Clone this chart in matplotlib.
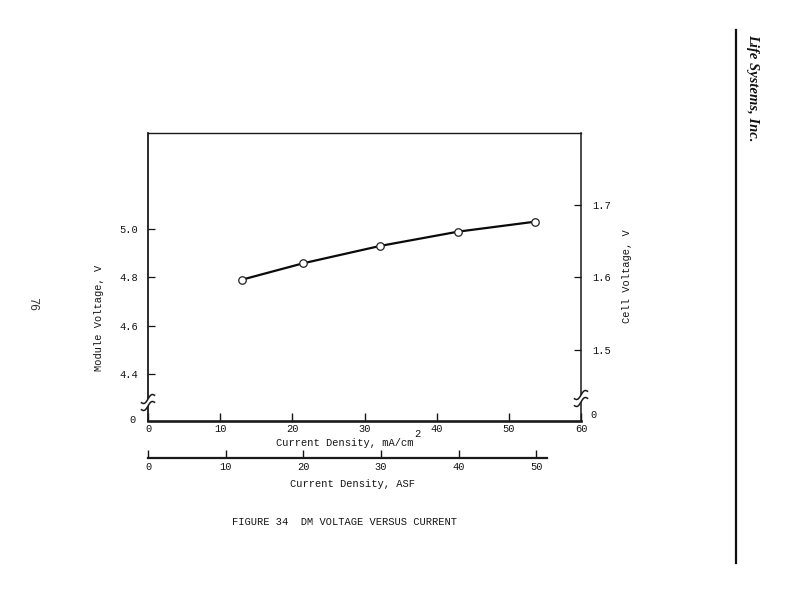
import numpy as np
import matplotlib
matplotlib.use("Agg")
import matplotlib.pyplot as plt
from matplotlib.patches import Rectangle

# ---- data ----
current_density = [13.0, 21.5, 32.2, 43.0, 53.6]        # mA/cm^2
module_voltage = [4.79, 4.858, 4.930, 4.989, 5.030]     # V
x_ticks = [0, 10, 20, 30, 40, 50, 60]
x_tick_labels = ["0", "10", "20", "30", "40", "50", "60"]
left_ticks = [4.4, 4.6, 4.8, 5.0]
left_tick_labels = ["4.4", "4.6", "4.8", "5.0"]
right_ticks = [1.5, 1.6, 1.7]
right_tick_labels = ["1.5", "1.6", "1.7"]
asf_ticks = [0, 10, 20, 30, 40, 50]
asf_tick_labels = ["0", "10", "20", "30", "40", "50"]
cells_per_module = 3
mAcm2_per_ASF = 1.0764

INK = "#141414"
plt.rcParams["font.family"] = ["Liberation Mono", "DejaVu Sans Mono"]
plt.rcParams["font.size"] = 7.5

W, H = 791, 607
fig = plt.figure(figsize=(W / 100, H / 100), dpi=100)
fig.patch.set_facecolor("white")

def fx(px):
    return px / W

def fy(py):
    return 1 - py / H

L, R, T, B = 148, 581, 133, 421
ax = fig.add_axes([fx(L), fy(B), (R - L) / W, (B - T) / H])
ax.plot(current_density, module_voltage, "-", color="#0a0a0a", lw=1.6,
        marker="o", ms=5.4, mfc="white", mec="#222222", mew=0.9, zorder=3)
ax.set_xlim(0, 60)
ylo, yhi = 4.2055, 5.397
ax.set_ylim(ylo, yhi)
ax.set_xticks(x_ticks)
ax.set_xticklabels(x_tick_labels)
ax.set_yticks(left_ticks)
ax.set_yticklabels(left_tick_labels)
ax.tick_params(axis="x", direction="in", length=6, width=1.0, pad=2.5, colors=INK)
ax.tick_params(axis="y", direction="in", length=5, width=0.9, pad=7, colors=INK)
ax.spines["bottom"].set_linewidth(1.9)
ax.spines["left"].set_linewidth(1.3)
ax.spines["right"].set_linewidth(1.1)
ax.spines["top"].set_linewidth(1.0)
for s in ax.spines.values():
    s.set_color("#1a1a1a")

ax2 = ax.twinx()
ax2.set_ylim(ylo / cells_per_module, yhi / cells_per_module)
ax2.set_yticks(right_ticks)
ax2.set_yticklabels(right_tick_labels)
ax2.tick_params(axis="y", direction="in", length=5, width=0.9, pad=8, colors=INK)
for s in ax2.spines.values():
    s.set_visible(False)

# corner zero labels
ax.annotate("0", xy=(0, 0), xycoords="axes fraction", xytext=(-11, 0.5),
            textcoords="offset points", ha="center", va="center", color=INK)
ax.annotate("0", xy=(1, 0), xycoords="axes fraction", xytext=(9, 4.5),
            textcoords="offset points", ha="center", va="center", color=INK)

# axis break marks
def brk(xfrac, y1, y2):
    h = B - T
    f1, f2 = (B - y1) / h, (B - y2) / h
    ax.add_patch(Rectangle((xfrac - 0.01, f2), 0.02, f1 - f2, transform=ax.transAxes,
                           facecolor="white", edgecolor="none", clip_on=False, zorder=5))
    t = np.linspace(-1, 1, 30)
    for f in (f1, f2):
        xs = xfrac + t * 0.015
        ys = f + 0.013 * t + 0.008 * np.sin(np.pi * t)
        ax.plot(xs, ys, color="#1a1a1a", lw=1.1, transform=ax.transAxes,
                clip_on=False, zorder=6)

brk(0.0, 406, 399)
brk(1.0, 402, 395)

# x label with superscript
fig.text(fx(413), fy(443), "Current Density, mA/cm", ha="right", va="center", color=INK)
fig.text(fx(414), fy(434), "2", ha="left", va="center", color=INK)

# ASF axis
axa = fig.add_axes([fx(L), fy(458), (R - L) / W, 0.001])
axa.set_xlim(0, 60 / mAcm2_per_ASF)
axa.set_ylim(0, 1)
axa.patch.set_visible(False)
for k in ("top", "left", "right"):
    axa.spines[k].set_visible(False)
axa.spines["bottom"].set_bounds(0, 51.4)
axa.spines["bottom"].set_linewidth(1.6)
axa.spines["bottom"].set_color("#1a1a1a")
axa.set_yticks([])
axa.set_xticks(asf_ticks)
axa.set_xticklabels(asf_tick_labels)
axa.tick_params(axis="x", direction="in", length=6, width=1.0, pad=3, colors=INK)
fig.text(fx(352), fy(484), "Current Density, ASF", ha="center", va="center", color=INK)

# y labels
fig.text(fx(99), fy(318), "Module Voltage, V", rotation=90, ha="center", va="center",
         color=INK)
fig.text(fx(627), fy(276), "Cell Voltage, V", rotation=90, ha="center", va="center",
         color=INK)

# caption
fig.text(fx(345), fy(522), "FIGURE 34  DM VOLTAGE VERSUS CURRENT", ha="center", va="center",
         color=INK)

# page decorations
fig.text(fx(32), fy(304), "76", rotation=-90, ha="center", va="center", color="#333333",
         fontsize=8.5)
fig.add_artist(plt.Line2D([fx(736), fx(736)], [fy(30), fy(563)], color="#111111", lw=1.6))
fig.text(fx(753), fy(88), "Life Systems, Inc.", rotation=-90, ha="center", va="center",
         family="Liberation Serif", style="italic", weight="bold", fontsize=10.5,
         color="#111111")

fig.savefig("out.png", dpi=100, facecolor="white")
